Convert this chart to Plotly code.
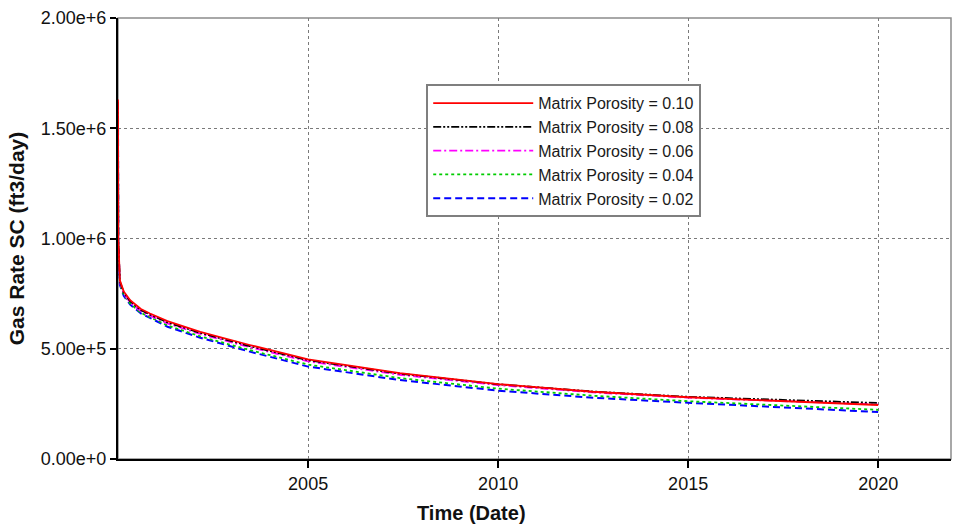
import plotly.graph_objects as go

dates = ["2000-01-01", "2000-01-04", "2000-01-19", "2000-02-25", "2000-04-27",
         "2000-08-08", "2000-11-03", "2001-04-20", "2002-03-01", "2003-06-20",
         "2005-01-01", "2007-06-01", "2010-01-01", "2012-07-01", "2015-01-01",
         "2017-07-01", "2020-01-01"]

por_010 = [1.63e6, 1.00e6, 0.810e6, 0.760e6, 0.720e6, 0.680e6, 0.660e6, 0.625e6, 0.577e6,
           0.517e6, 0.452e6, 0.389e6, 0.340e6, 0.305e6, 0.280e6, 0.262e6, 0.245e6]
por_008 = [1.62e6, 0.99e6, 0.805e6, 0.755e6, 0.715e6, 0.675e6, 0.655e6, 0.620e6, 0.572e6,
           0.512e6, 0.448e6, 0.387e6, 0.339e6, 0.306e6, 0.282e6, 0.267e6, 0.254e6]
por_006 = [1.61e6, 0.98e6, 0.800e6, 0.750e6, 0.710e6, 0.670e6, 0.650e6, 0.615e6, 0.567e6,
           0.507e6, 0.443e6, 0.382e6, 0.335e6, 0.302e6, 0.278e6, 0.262e6, 0.247e6]
por_004 = [1.60e6, 0.97e6, 0.795e6, 0.745e6, 0.705e6, 0.663e6, 0.643e6, 0.606e6, 0.556e6,
           0.494e6, 0.428e6, 0.367e6, 0.319e6, 0.287e6, 0.262e6, 0.242e6, 0.223e6]
por_002 = [1.60e6, 0.96e6, 0.790e6, 0.740e6, 0.700e6, 0.660e6, 0.640e6, 0.600e6, 0.550e6,
           0.487e6, 0.419e6, 0.358e6, 0.310e6, 0.278e6, 0.255e6, 0.234e6, 0.213e6]

series_names = ["Matrix Porosity = 0.10", "Matrix Porosity = 0.08", "Matrix Porosity = 0.06",
                "Matrix Porosity = 0.04", "Matrix Porosity = 0.02"]
series_values = [por_010, por_008, por_006, por_004, por_002]
series_colors = ["#ff0000", "#000000", "#ff00ff", "#00cc00", "#0000ff"]
series_dash = ["solid", "8px,2px,2px,2px,2px,2px", "8px,3px,2px,3px", "dot", "7px,4px"]
series_width = [1.8, 1.8, 1.8, 1.8, 2.0]

fig = go.Figure()
# draw lowest porosity first so 0.10 ends up on top; legend keeps 0.10 first
for i in reversed(range(len(series_names))):
    fig.add_trace(go.Scatter(
        x=dates, y=series_values[i], mode="lines", name=series_names[i],
        line=dict(color=series_colors[i], dash=series_dash[i], width=series_width[i]),
        legendrank=i + 1,
    ))

fig.update_layout(
    width=956, height=529,
    margin=dict(l=118, r=5, t=18, b=70),
    paper_bgcolor="white", plot_bgcolor="white",
    font=dict(family="Liberation Sans, Arial, sans-serif", color="#1a1a1a"),
    showlegend=True,
    legend=dict(
        x=0.37, y=0.85, xanchor="left", yanchor="top",
        bgcolor="white", bordercolor="#7f7f7f", borderwidth=2,
        font=dict(size=16, color="#1a1a1a", family="Liberation Sans, Arial, sans-serif"),
        itemwidth=100, tracegroupgap=0,
    ),
    xaxis=dict(
        type="date",
        range=["2000-01-01", "2021-12-01"],
        tickvals=["2005-01-01", "2010-01-01", "2015-01-01", "2020-01-01"],
        ticktext=["2005", "2010", "2015", "2020"],
        ticks="outside", ticklen=7, tickwidth=2, tickcolor="#000",
        showline=True, linecolor="#000", linewidth=2,
        showgrid=True, gridcolor="#7a7a7a", griddash="dot", gridwidth=1,
        tickfont=dict(size=18, color="#111"),
        zeroline=False,
    ),
    yaxis=dict(
        range=[0, 2.0e6],
        tickvals=[0, 5e5, 1e6, 1.5e6, 2e6],
        tickformat=".2e",
        ticks="outside", ticklen=6, tickwidth=1.5, tickcolor="#000",
        showline=True, linecolor="#000", linewidth=2,
        showgrid=True, gridcolor="#7a7a7a", griddash="dot", gridwidth=1,
        tickfont=dict(size=18, color="#111"),
        title=dict(text="<b>Gas Rate SC (ft3/day)</b>", font=dict(size=21, color="#111"), standoff=10),
        zeroline=False,
    ),
    shapes=[dict(type="rect", xref="paper", yref="paper", x0=0, y0=0, x1=1, y1=1,
                 line=dict(color="#8c8c8c", width=1.5), layer="below")],
    annotations=[dict(text="<b>Time (Date)</b>", xref="paper", yref="paper",
                      x=0.424, y=-0.093, xanchor="center", yanchor="top", showarrow=False,
                      font=dict(size=20, color="#111"))],
)

fig.write_html("out.html")
